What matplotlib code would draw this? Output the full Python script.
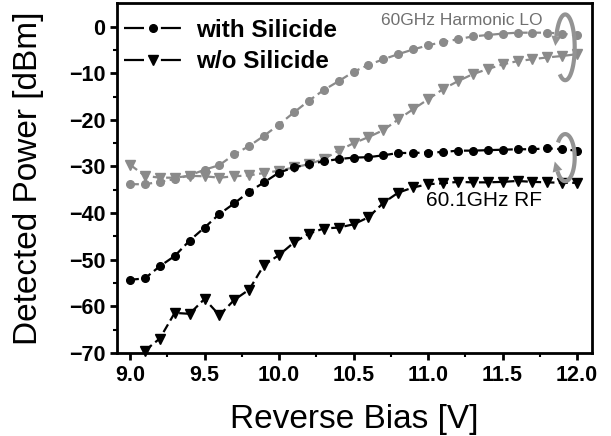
import numpy as np
import matplotlib
matplotlib.use('Agg')
from matplotlib import pyplot as plt
from matplotlib.patches import Polygon
from matplotlib.lines import Line2D

plt.rcParams['font.family'] = ['Liberation Sans', 'DejaVu Sans']

# reverse bias sweep [V]
bias = [9.0, 9.1, 9.2, 9.3, 9.4, 9.5, 9.6, 9.7, 9.8, 9.9,
        10.0, 10.1, 10.2, 10.3, 10.4, 10.5, 10.6, 10.7, 10.8, 10.9,
        11.0, 11.1, 11.2, 11.3, 11.4, 11.5, 11.6, 11.7, 11.8, 11.9, 12.0]

# 60GHz harmonic LO (grey)
lo_with = [-33.8, -33.8, -33.3, -32.7, -31.9, -30.7, -29.7, -27.4, -25.6, -23.4,
           -21.0, -18.4, -15.9, -13.6, -11.7, -9.7, -8.2, -7.0, -5.9, -4.9,
           -4.0, -3.3, -2.7, -2.1, -1.8, -1.5, -1.3, -1.3, -1.3, -1.5, -1.9]
lo_without = [-29.6, -32.0, -32.4, -32.4, -32.0, -32.1, -32.4, -32.1, -31.9, -31.4,
              -30.9, -30.2, -29.5, -28.4, -26.6, -25.0, -23.7, -22.2, -19.9, -17.7,
              -15.6, -13.4, -11.7, -10.2, -9.1, -8.1, -7.4, -7.0, -6.6, -6.3, -5.9]

# 60.1GHz RF (black)
rf_with = [-54.3, -54.0, -51.4, -49.2, -45.9, -43.1, -40.2, -37.9, -35.4, -33.4,
           -31.3, -30.2, -29.5, -28.9, -28.4, -28.1, -28.0, -27.6, -27.1, -27.1,
           -27.0, -26.9, -26.6, -26.6, -26.5, -26.4, -26.3, -26.3, -26.1, -26.3, -26.6]
rf_without = [np.nan, -69.5, -66.9, -61.4, -61.6, -58.4, -61.9, -58.6, -56.4, -51.1,
              -49.0, -46.3, -44.4, -43.3, -43.1, -42.4, -40.9, -37.8, -35.6, -34.5,
              -33.8, -33.6, -33.3, -33.4, -33.4, -33.3, -33.1, -33.3, -33.4, -33.5, -33.5]

GREY = '#8a8a8a'
RING = '#939393'
LW = 1.6
DASH = (0, (4, 2))

fig = plt.figure(figsize=(6.11, 4.36), dpi=100)
ax = fig.add_axes([0.1915, 0.1904, 0.7775, 0.802])

ax.plot(bias, lo_with, color=GREY, ls=DASH, lw=LW, marker='o', ms=5.5, clip_on=False)
ax.plot(bias, lo_without, color=GREY, ls=DASH, lw=LW, marker='v', ms=6.5, clip_on=False)
ax.plot(bias, rf_with, color='black', ls=DASH, lw=LW, marker='o', ms=5.5, clip_on=False)
ax.plot(bias, rf_without, color='black', ls=DASH, lw=LW, marker='v', ms=6.5, clip_on=False)

ax.set_xlim(8.913, 12.10)
ax.set_ylim(-70, 5)
ax.set_xticks([9.0, 9.5, 10.0, 10.5, 11.0, 11.5, 12.0])
ax.set_xticks([9.25, 9.75, 10.25, 10.75, 11.25, 11.75], minor=True)
ax.set_yticks([-70, -60, -50, -40, -30, -20, -10, 0])
ax.set_yticks([-65, -55, -45, -35, -25, -15, -5], minor=True)
ax.xaxis.set_major_formatter(matplotlib.ticker.FormatStrFormatter('%.1f'))

for s in ax.spines.values():
    s.set_linewidth(2)
ax.tick_params(which='major', direction='out', length=5, width=2, labelsize=15.5)
ax.tick_params(which='minor', direction='out', length=3, width=1.5)
for lab in ax.get_xticklabels() + ax.get_yticklabels():
    lab.set_fontweight('bold')

ax.set_xlabel('Reverse Bias [V]', fontsize=24, labelpad=13)
ax.set_ylabel('Detected Power [dBm]', fontsize=24, labelpad=18)

# legend (black styles)
handles = [Line2D([], [], color='black', lw=LW, dashes=(9, 7.6), marker='o', ms=5.5),
           Line2D([], [], color='black', lw=LW, dashes=(9, 7.6), marker='v', ms=6.5)]
ax.legend(handles, ['with Silicide', 'w/o Silicide'], loc='upper left',
          bbox_to_anchor=(0.015, 0.956), frameon=False, borderpad=0, borderaxespad=0,
          handlelength=2.35, handletextpad=0.6, labelspacing=0.35,
          prop={'weight': 'bold', 'size': 17.5})

ax.text(11.766, 1.35, '60GHz Harmonic LO', color='#707070', fontsize=12.5,
        ha='right', va='center')
ax.text(11.766, -37.4, '60.1GHz RF', color='black', fontsize=15,
        ha='right', va='center')


# grey curved arrows grouping each pair of curves
def ring(cx, cy, w, h, t_start, t_end):
    # arc drawn from t_start to t_end (degrees, parametric), head at t_end
    t = np.radians(np.linspace(t_start, t_end, 80))
    ax.plot(cx + w / 2 * np.cos(t), cy + h / 2 * np.sin(t), color=RING, lw=3,
            solid_capstyle='butt', clip_on=False)
    c = ax.transData.transform((cx, cy))
    rx = ax.transData.transform((cx + w / 2, cy))[0] - c[0]
    ry = ax.transData.transform((cx, cy + h / 2))[1] - c[1]
    te = np.radians(t_end)
    sgn = np.sign(t_end - t_start)
    base = c + np.array([rx * np.cos(te), ry * np.sin(te)])
    d = sgn * np.array([-rx * np.sin(te), ry * np.cos(te)])
    d /= np.hypot(*d)
    n = np.array([-d[1], d[0]])
    tri = np.array([base + d * 10, base + n * 5, base - n * 5])
    ax.add_patch(Polygon(ax.transData.inverted().transform(tri), closed=True,
                         color=RING, lw=0, clip_on=False))


ring(11.92, -4.44, 0.127, 14.1, 235, 520)
ring(11.92, -28.1, 0.127, 10.1, 140, -145)

fig.savefig('out.png', dpi=100)
